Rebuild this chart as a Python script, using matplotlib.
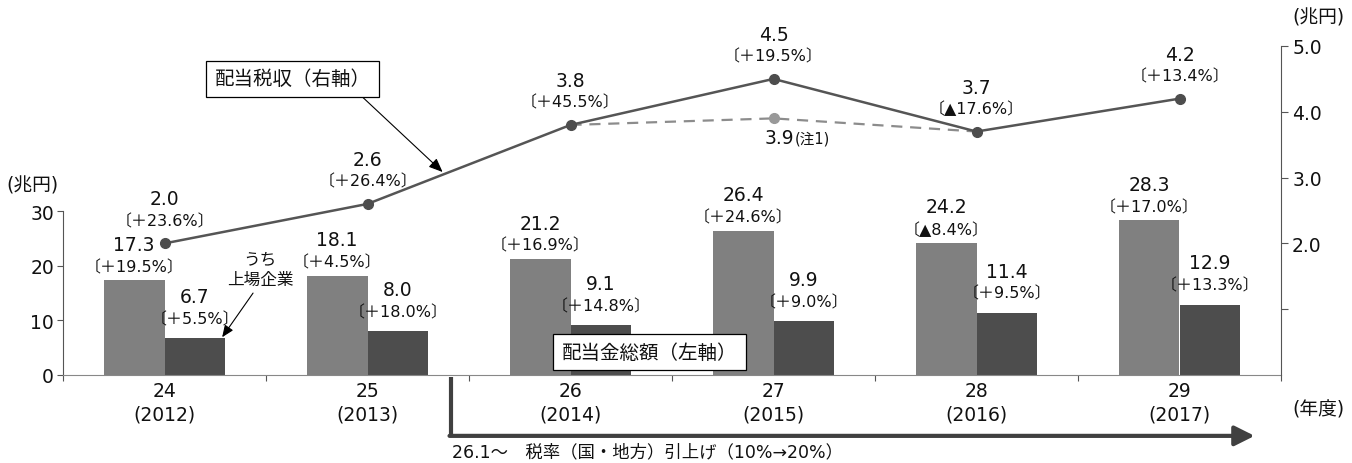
import numpy as np
import matplotlib
matplotlib.use("Agg")
import matplotlib.pyplot as plt
import matplotlib.transforms as mtransforms

plt.rcParams['font.family'] = ['DejaVu Sans', 'Noto Sans CJK JP']

# ---- data ----
years = ["24\n(2012)", "25\n(2013)", "26\n(2014)", "27\n(2015)", "28\n(2016)", "29\n(2017)"]
total_div = [17.3, 18.1, 21.2, 26.4, 24.2, 28.3]          # 配当金総額（左軸）
total_pct = ["〔＋19.5%〕", "〔＋4.5%〕", "〔＋16.9%〕", "〔＋24.6%〕", "〔▲8.4%〕", "〔＋17.0%〕"]
listed_div = [6.7, 8.0, 9.1, 9.9, 11.4, 12.9]            # うち上場企業
listed_pct = ["〔＋5.5%〕", "〔＋18.0%〕", "〔＋14.8%〕", "〔＋9.0%〕", "〔＋9.5%〕", "〔＋13.3%〕"]
tax = [2.0, 2.6, 3.8, 4.5, 3.7, 4.2]                      # 配当税収（右軸）
tax_pct = ["〔＋23.6%〕", "〔＋26.4%〕", "〔＋45.5%〕", "〔＋19.5%〕", "〔▲17.6%〕", "〔＋13.4%〕"]
tax_alt = [np.nan, np.nan, 3.8, 3.9, 3.7, np.nan]         # 税率引上げがなかった場合（注1）

light = "#808080"
dark = "#4d4d4d"
txt = "#111111"
fs_val = 13.5
fs_pct = 11.5

x = np.arange(len(years))
w = 0.3

fig = plt.figure(figsize=(13.52, 4.64), dpi=100)
ax = fig.add_axes([63 / 1352, 88 / 464, 1218 / 1352, 329 / 464])
ax2 = ax.twinx()

# ---- bars (left axis) ----
ax.bar(x - w / 2, total_div, w, color=light, zorder=2)
ax.bar(x + w / 2, listed_div, w, color=dark, zorder=2)
ax.set_xlim(-0.5, len(years) - 0.5)
ax.set_ylim(0, 60.2)
ax.set_yticks([0, 10, 20, 30])
ax.spines['left'].set_bounds(0, 30)

for xi, v, p in zip(x - w / 2, total_div, total_pct):
    ax.annotate(f"{v:.1f}", (xi, v), xytext=(0, 26), textcoords='offset points',
                ha='center', va='center', fontsize=fs_val, color=txt)
    ax.annotate(p, (xi, v), xytext=(0, 10), textcoords='offset points',
                ha='center', va='center', fontsize=fs_pct, color=txt)
for xi, v, p in zip(x + w / 2, listed_div, listed_pct):
    ax.annotate(f"{v:.1f}", (xi, v), xytext=(0, 30), textcoords='offset points',
                ha='center', va='center', fontsize=fs_val, color=txt)
    ax.annotate(p, (xi, v), xytext=(0, 14), textcoords='offset points',
                ha='center', va='center', fontsize=fs_pct, color=txt)

# ---- line (right axis) ----
ax2.plot(x, tax_alt, color="#8c8c8c", lw=1.6, ls=(0, (5, 3.5)), zorder=3)
ax2.plot(x[3], tax_alt[3], 'o', color="#999999", ms=7, zorder=3)
ax2.plot(x, tax, color="#555555", lw=1.8, marker='o', ms=7,
         markerfacecolor=dark, markeredgecolor=dark, zorder=4)
ax2.set_ylim(0, 5)
ax2.set_yticks([1, 2, 3, 4, 5])
ax2.set_yticklabels(["", "2.0", "3.0", "4.0", "5.0"])

for xi, v, p in zip(x, tax, tax_pct):
    ax2.annotate(f"{v:.1f}", (xi, v), xytext=(0, 32), textcoords='offset points',
                 ha='center', va='center', fontsize=fs_val, color=txt)
    ax2.annotate(p, (xi, v), xytext=(0, 16.5), textcoords='offset points',
                 ha='center', va='center', fontsize=fs_pct, color=txt)
ax2.annotate("3.9", (x[3], tax_alt[3]), xytext=(4, -14), textcoords='offset points',
             ha='center', va='center', fontsize=fs_val, color=txt)
ax2.annotate("(注1)", (x[3], tax_alt[3]), xytext=(15.5, -14), textcoords='offset points',
             ha='left', va='center', fontsize=10.5, color=txt)

# ---- axes styling ----
for a in (ax, ax2):
    a.spines['top'].set_visible(False)
ax.spines['right'].set_visible(False)
ax2.spines['left'].set_visible(False)
ax2.spines['bottom'].set_visible(False)
ax.spines['bottom'].set_color("#888888")
ax.spines['left'].set_color("#555555")
ax2.spines['right'].set_color("#555555")

ax.set_xticks(np.arange(-0.5, len(years)), labels=[""] * (len(years) + 1))
ax.set_xticks(x, labels=years, minor=True)
ax.tick_params(axis='x', which='major', direction='out', length=4.5, color="#555555")
ax.tick_params(axis='x', which='minor', length=0, pad=4.5, labelsize=fs_val, labelcolor=txt)
for lab in ax.get_xticklabels(minor=True):
    lab.set_linespacing(1.3)
ax.tick_params(axis='y', direction='out', length=4.5, pad=2, labelsize=fs_val,
               labelcolor=txt, color="#555555")
ax2.tick_params(axis='y', direction='out', length=5, pad=3, labelsize=fs_val,
                labelcolor=txt, color="#555555")

fig.text(32 / 1352, 1 - 186 / 464, "(兆円)", ha='center', va='center', fontsize=13.5, color=txt)
fig.text(1318 / 1352, 1 - 18 / 464, "(兆円)", ha='center', va='center', fontsize=13.5, color=txt)
fig.text(1318 / 1352, 1 - 410 / 464, "(年度)", ha='center', va='center', fontsize=13.5, color=txt)

# ---- callouts ----
box = dict(boxstyle='square,pad=0.45', fc='white', ec='black', lw=0.9)
t = 0.38
ax2.annotate("配当税収（右軸）", xy=(1 + t, np.interp(1 + t, x, tax)), xytext=(0.63, 4.5),
             ha='center', va='center', fontsize=14, color=txt, bbox=box, zorder=6,
             arrowprops=dict(arrowstyle='-|>,head_length=0.6,head_width=0.25', color='black',
                             lw=0.8, relpos=(0.89, 0), shrinkA=0, shrinkB=2))
ax.annotate("配当金総額（左軸）", xy=(2.39, 4.2), ha='center', va='center', fontsize=14,
            color=txt, bbox=box, zorder=6)
ax.annotate("うち\n上場企業", xy=(0.28, listed_div[0]), xytext=(0.47, 19.4),
            ha='center', va='center', fontsize=12, color=txt, linespacing=1.15, zorder=6,
            arrowprops=dict(arrowstyle='-|>,head_length=0.6,head_width=0.25', color='black',
                            lw=0.8, relpos=(0.45, 0), shrinkA=2, shrinkB=1))

# ---- tax rate change arrow ----
trans = mtransforms.blended_transform_factory(ax.transData, ax.transAxes)
start, end = 1.41, 5.37
ax.plot([start, start], [-0.006, -0.185], color="#404040", lw=3, transform=trans,
        clip_on=False, solid_capstyle='butt')
ax.annotate("", xy=(end, -0.185), xytext=(start - 0.006, -0.185), xycoords=trans,
            textcoords=trans, annotation_clip=False,
            arrowprops=dict(arrowstyle='-|>,head_length=1.2,head_width=0.6', color="#404040",
                            lw=3, shrinkA=0, shrinkB=0))
ax.text(start + 0.005, -0.232, "26.1～　税率（国・地方）引上げ（10%→20%）", transform=trans,
        ha='left', va='center', fontsize=12.5, color=txt)

fig.savefig("out.png", dpi=100)
